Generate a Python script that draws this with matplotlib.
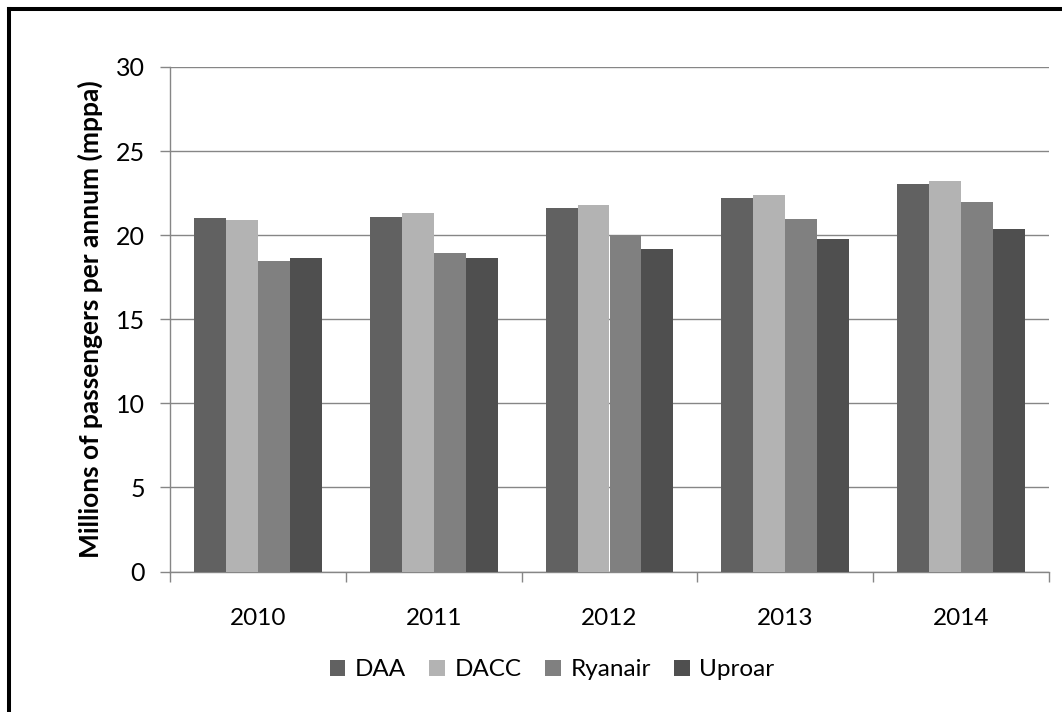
import matplotlib
matplotlib.use("Agg")
import matplotlib.pyplot as plt
from matplotlib.lines import Line2D
import numpy as np

plt.rcParams['font.family'] = ['Lato', 'DejaVu Sans']

years = ["2010", "2011", "2012", "2013", "2014"]
series_names = ["DAA", "DACC", "Ryanair", "Uproar"]
daa = [21.05, 21.1, 21.6, 22.2, 23.05]
dacc = [20.9, 21.3, 21.8, 22.4, 23.2]
ryanair = [18.45, 18.95, 20.0, 20.95, 21.95]
uproar = [18.65, 18.65, 19.2, 19.8, 20.35]
colors = ["#616161", "#b3b3b3", "#808080", "#4f4f4f"]

values = [daa, dacc, ryanair, uproar]

fig = plt.figure(figsize=(10.62, 7.12), dpi=100)
ax = fig.add_axes([170 / 1062, 1 - 571.5 / 712, (1049 - 170) / 1062, (571.5 - 67) / 712])

x = np.arange(len(years))
bar_w = 1 / 5.5
for i, (vals, col, name) in enumerate(zip(values, colors, series_names)):
    offs = (i - 1.5) * bar_w
    ax.bar(x + offs, vals, width=bar_w, color=col, label=name, zorder=3,
           edgecolor=col, linewidth=0)

ax.set_xlim(-0.5, len(years) - 0.5)
ax.set_ylim(0, 30)
ax.set_yticks(np.arange(0, 31, 5))
ax.yaxis.grid(True, color="#868686", linewidth=1.0, zorder=0)
ax.set_axisbelow(True)

grey = "#868686"
for side in ("top", "right"):
    ax.spines[side].set_visible(False)
for side in ("left", "bottom"):
    ax.spines[side].set_color(grey)
    ax.spines[side].set_linewidth(1.0)

# category labels centred, ticks at category boundaries
ax.set_xticks(x)
ax.set_xticklabels(years)
ax.tick_params(axis="x", which="major", length=0, pad=26, labelsize=17.5)
ax.set_xticks(np.arange(-0.5, len(years), 1.0), minor=True)
ax.tick_params(axis="x", which="minor", length=7, width=1, color=grey, direction="out")
ax.tick_params(axis="y", length=7, width=1, color=grey, direction="out", pad=11, labelsize=18)

ax.set_ylabel("Millions of passengers per annum (mppa)", fontsize=19, fontweight="bold", labelpad=9)

fig.legend(loc="center", bbox_to_anchor=(552 / 1062, 1 - 670 / 712), ncol=4, frameon=False,
           fontsize=17.5, handlelength=0.65, handleheight=0.65, handletextpad=0.4,
           columnspacing=0.95, borderpad=0, borderaxespad=0)

# frame along the left and top edges of the chart area
fig.add_artist(Line2D([9 / 1062, 9 / 1062], [0, 1 - 9 / 712], transform=fig.transFigure,
                      color="black", linewidth=2.9, solid_capstyle="projecting"))
fig.add_artist(Line2D([9 / 1062, 1], [1 - 9 / 712, 1 - 9 / 712], transform=fig.transFigure,
                      color="black", linewidth=2.9, solid_capstyle="projecting"))

fig.savefig("out.png", dpi=100)
